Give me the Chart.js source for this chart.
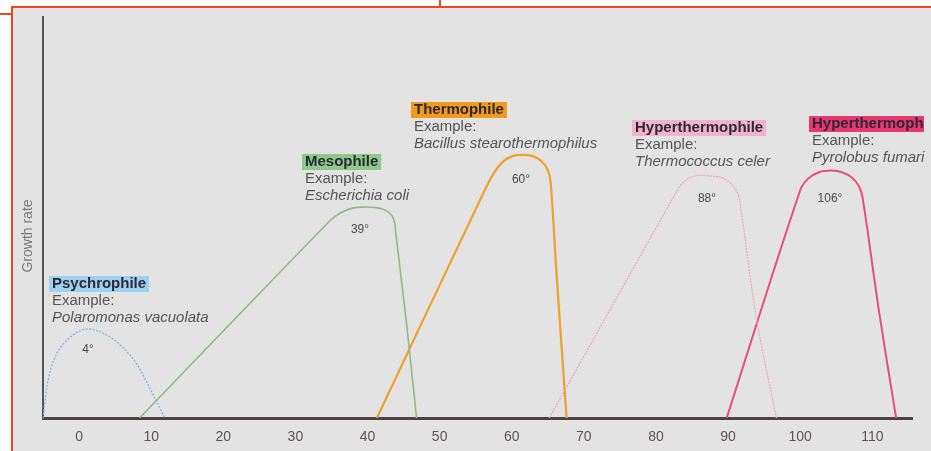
<!DOCTYPE html>
<html>
<head>
<meta charset="utf-8">
<script src="https://cdn.jsdelivr.net/npm/chart.js@4/dist/chart.umd.min.js"></script>
<style>
  body { margin: 0; background: #fff; width: 931px; height: 451px; overflow: hidden; position: relative; }
  #frame { position: absolute; left: 11px; top: 6px; right: 0; bottom: 0; background: #e3e3e3;
           border-top: 2px solid #f2451c; border-left: 2px solid #f2451c; }
  .tick { position: absolute; background: #f2451c; }
  #chart { position: absolute; left: 0; top: 0; }
</style>
</head>
<body>
<div id="frame"></div>
<div class="tick" style="left:439px;top:0;width:2px;height:7px"></div>
<div class="tick" style="left:0;top:13px;width:12px;height:2px"></div>
<canvas id="chart" width="931" height="451"></canvas>
<script>
// temperature axis ticks (°C)
const xTicks = [0, 10, 20, 30, 40, 50, 60, 70, 80, 90, 100, 110];

// growth curves (temperature / relative growth rate)
const psychroTemp = [-5, -4.7, -4.3, -3.6, -2.6, -1.2, 0.1, 1.2, 2.6, 4.3, 6.0, 7.8, 9.6, 11.0, 11.9];
const psychroRate = [0, 4.5, 9.5, 14, 17.5, 20.2, 21.7, 22.2, 21.7, 20.2, 17.7, 14, 8.2, 3.2, 0];

const mesoTemp = [8.4, 34.8, 36.3, 38.0, 39.6, 41.0, 42.4, 43.4, 43.8, 43.9, 45.4, 46.8];
const mesoRate = [0, 49.2, 51.2, 52.4, 52.6, 52.5, 51.9, 50.4, 48.4, 46.4, 23.7, 0];

const thermoTemp = [41.3, 56.3, 57.5, 58.7, 60.1, 61.5, 62.9, 64.1, 65.0, 65.4, 66.2, 67.6];
const thermoRate = [0, 57.0, 61.0, 63.8, 65.3, 65.6, 65.3, 64.1, 61.8, 58.6, 36.2, 0];

const hyperTemp = [65.2, 82.4, 83.6, 84.9, 86.3, 87.8, 89.2, 90.4, 91.3, 91.7, 93.9, 96.7];
const hyperRate = [0, 55.0, 58.4, 60.1, 60.5, 60.3, 59.9, 58.4, 56.1, 53.1, 25.2, 0];

const pyroTemp = [89.8, 100.0, 101.1, 102.6, 104.3, 105.8, 107.2, 108.2, 108.7, 110.9, 113.3];
const pyroRate = [0, 56.8, 59.7, 61.3, 61.7, 61.3, 59.9, 57.6, 54.4, 26.9, 0];

const groupNames = ['Psychrophile', 'Mesophile', 'Thermophile', 'Hyperthermophile', 'Hyperthermophile'];
const exampleNames = ['Polaromonas vacuolata', 'Escherichia coli', 'Bacillus stearothermophilus', 'Thermococcus celer', 'Pyrolobus fumari'];
const optimumLabels = ['4°', '39°', '60°', '88°', '106°'];

const toPoints = (xs, ys) => xs.map((x, i) => ({ x: x, y: ys[i] }));

// where the text blocks sit on the picture
const labelSpots = [
  { x: 52, y: 284, box: '#9fd0ef', peakX: 88, peakY: 350 },
  { x: 305, y: 162, box: '#8fc98a', peakX: 360, peakY: 230 },
  { x: 414, y: 110, box: '#f29a1e', peakX: 521, peakY: 180 },
  { x: 635, y: 128, box: '#f2b3c9', peakX: 707, peakY: 199 },
  { x: 812, y: 124, box: '#e8386f', peakX: 830, peakY: 199 }
];

const stretch = 1.07;
const fam = '"Liberation Sans", Arial, sans-serif';

// text slightly wider than the font, like the scanned figure
function wideText(ctx, text, x, y) {
  ctx.save();
  ctx.translate(x, y);
  ctx.scale(stretch, 1);
  ctx.fillText(text, 0, 0);
  ctx.restore();
}

const labelPlugin = {
  id: 'labelPlugin',
  afterDatasetsDraw(chart) {
    const ctx = chart.ctx;
    ctx.save();
    ctx.textBaseline = 'middle';
    labelSpots.forEach((s, i) => {
      ctx.font = 'bold 14px ' + fam;
      ctx.textAlign = 'left';
      const w = Math.min(ctx.measureText(groupNames[i]).width * stretch + 6, 927 - s.x);
      ctx.fillStyle = s.box;
      ctx.fillRect(s.x - 3, s.y - 8, w, 16);
      ctx.save();
      ctx.beginPath();
      ctx.rect(s.x - 3, s.y - 9, w, 18);
      ctx.clip();
      ctx.fillStyle = '#2b2838';
      wideText(ctx, groupNames[i], s.x, s.y);
      ctx.restore();
      ctx.fillStyle = '#555';
      ctx.font = '14px ' + fam;
      wideText(ctx, 'Example:', s.x, s.y + 17);
      ctx.font = 'italic 14px ' + fam;
      wideText(ctx, exampleNames[i], s.x, s.y + 34);
      ctx.font = '12px ' + fam;
      ctx.textAlign = 'center';
      ctx.fillStyle = '#4a4a4a';
      ctx.fillText(optimumLabels[i], s.peakX, s.peakY);
    });
    // axis title
    ctx.translate(28, 236);
    ctx.rotate(-Math.PI / 2);
    ctx.font = '14px ' + fam;
    ctx.fillStyle = '#777';
    ctx.textAlign = 'center';
    ctx.fillText('Growth rate', 0, 0);
    ctx.restore();
  }
};

new Chart(document.getElementById('chart'), {
  type: 'line',
  data: {
    datasets: [
      { data: toPoints(psychroTemp, psychroRate), borderColor: '#7db9e3', borderWidth: 1.3, borderDash: [2, 1.5] },
      { data: toPoints(mesoTemp, mesoRate), borderColor: '#93b883', borderWidth: 1.6 },
      { data: toPoints(thermoTemp, thermoRate), borderColor: '#f0a02a', borderWidth: 2.2 },
      { data: toPoints(hyperTemp, hyperRate), borderColor: '#efaabf', borderWidth: 1.3, borderDash: [2, 1] },
      { data: toPoints(pyroTemp, pyroRate), borderColor: '#e64f7c', borderWidth: 2 }
    ]
  },
  options: {
    responsive: false,
    animation: false,
    devicePixelRatio: 1,
    layout: { padding: { left: 0, right: 19, top: 17, bottom: 0 } },
    elements: {
      point: { radius: 0 },
      line: { tension: 0.35, fill: false }
    },
    plugins: { legend: { display: false }, tooltip: { enabled: false } },
    scales: {
      x: {
        type: 'linear',
        min: -5,
        max: 115.5,
        afterFit: (s) => { s.height = 33; },
        afterBuildTicks: (s) => { s.ticks = xTicks.map(v => ({ value: v })); },
        grid: { display: false, drawTicks: false },
        border: { display: true, color: '#4d4344', width: 3 },
        ticks: { color: '#5e5458', padding: 11, font: { size: 14, family: fam } }
      },
      y: {
        min: 0,
        max: 100,
        afterFit: (s) => { s.width = 43; },
        grid: { display: false, drawTicks: false },
        border: { display: true, color: '#555', width: 2 },
        ticks: { display: false }
      }
    }
  },
  plugins: [labelPlugin]
});
</script>
</body>
</html>
